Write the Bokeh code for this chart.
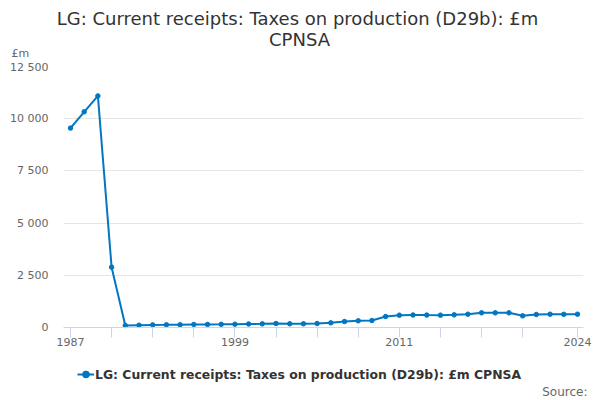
from bokeh.plotting import figure
from bokeh.models import (Range1d, FixedTicker, Legend, LegendItem, Label)
from bokeh.embed import file_html
from bokeh.resources import INLINE

years = list(range(1987, 2025))
values = [9550, 10330, 11090, 2890, 95, 110, 125, 128, 132, 144, 148, 152, 160, 170,
          175, 190, 178, 178, 190, 223, 287, 319, 335, 526, 590, 600,
          595, 592, 606, 638, 702, 702, 702, 558, 622, 638, 632, 638]

x_ticks = [1987, 1990, 1993, 1996, 1999, 2002, 2005, 2008, 2011, 2014, 2017, 2020, 2024]
x_labels = {1987: "1987", 1999: "1999", 2011: "2011", 2024: "2024"}
y_ticks = [0, 2500, 5000, 7500, 10000, 12500]
y_labels = ["0", "2 500", "5 000", "7 500", "10 000", "12 500"]

title_text = "LG: Current receipts: Taxes on production (D29b): £m"
title_text2 = "CPNSA"
series_name = "LG: Current receipts: Taxes on production (D29b): £m CPNSA"
unit_text = "£m"
source_text = "Source:"

FONT = "DejaVu Sans"
COLOR = "#0077c0"
W = 600
HA, HB, HC = 60, 295, 44


def blank(h):
    f = figure(width=W, height=h, output_backend="svg", toolbar_location=None,
               x_range=Range1d(0, W), y_range=Range1d(0, h),
               x_axis_location=None, y_axis_location=None,
               min_border_left=0, min_border_right=0, min_border_top=0, min_border_bottom=0)
    f.grid.visible = False
    f.outline_line_color = None
    f.background_fill_color = "white"
    f.border_fill_color = "white"
    return f


# --- header: title and unit ---
pa = blank(HA)
pa.add_layout(Label(x=297, y=HA - 18, text=title_text, text_align="center",
                    text_baseline="middle", text_font=FONT, text_font_size="18px",
                    text_color="#333333"))
pa.add_layout(Label(x=299, y=HA - 39, text=title_text2, text_align="center",
                    text_baseline="middle", text_font=FONT, text_font_size="18px",
                    text_color="#333333"))
pa.add_layout(Label(x=11, y=HA - 53, text=unit_text, text_align="left",
                    text_baseline="middle", text_font=FONT, text_font_size="11px",
                    text_color="#666666"))

# --- main chart ---
p = figure(width=W, height=HB, output_backend="svg", toolbar_location=None,
           x_range=Range1d(1986.49, 2024.44), y_range=Range1d(0, 12500),
           min_border_left=63, min_border_right=17, min_border_top=6, min_border_bottom=28)
p.outline_line_color = None
p.background_fill_color = "white"
p.border_fill_color = "white"

p.line(years, values, line_color=COLOR, line_width=2)
p.scatter(years, values, size=4.5, fill_color=COLOR, line_color=COLOR)

xa = p.xaxis[0]
xa.ticker = FixedTicker(ticks=x_ticks)
xa.major_label_overrides = {t: x_labels.get(t, "") for t in x_ticks}
xa.axis_line_color = "#ccd6eb"
xa.major_tick_line_color = "#ccd6eb"
xa.major_tick_out = 10
xa.major_tick_in = 0
xa.minor_tick_line_color = None
xa.major_label_text_font = FONT
xa.major_label_text_font_size = "11px"
xa.major_label_text_color = "#666666"
xa.major_label_standoff = 0

ya = p.yaxis[0]
ya.ticker = FixedTicker(ticks=y_ticks)
ya.major_label_overrides = {t: l for t, l in zip(y_ticks, y_labels)}
ya.axis_line_color = None
ya.major_tick_line_color = None
ya.major_tick_out = 0
ya.major_tick_in = 0
ya.minor_tick_line_color = None
ya.major_label_text_font = FONT
ya.major_label_text_font_size = "11px"
ya.major_label_text_color = "#666666"
ya.major_label_standoff = 15

p.xgrid.grid_line_color = None
p.ygrid.grid_line_color = "#e6e6e6"
p.ygrid.ticker = FixedTicker(ticks=y_ticks)

# --- footer: legend and source ---
pc = blank(HC)
lg_line = pc.line(years, values, line_color=COLOR, line_width=2, visible=False)
lg_pts = pc.scatter(years, values, size=4, fill_color=COLOR, line_color=COLOR, visible=False)
legend = Legend(items=[LegendItem(label=series_name, renderers=[lg_line, lg_pts])],
                orientation="horizontal", location=(77, 15),
                label_text_font=FONT, label_text_font_size="12.4px",
                label_text_font_style="bold", label_text_color="#333333",
                border_line_color=None, background_fill_alpha=0,
                glyph_width=17, glyph_height=20, label_height=20,
                label_standoff=1, padding=0, margin=0, spacing=0)
pc.add_layout(legend)
pc.add_layout(Label(x=587, y=HC - 36.5, text=source_text, text_align="right",
                    text_baseline="middle", text_font=FONT, text_font_size="12px",
                    text_color="#666666"))

open("out.html", "w").write(file_html([pa, p, pc], INLINE))
